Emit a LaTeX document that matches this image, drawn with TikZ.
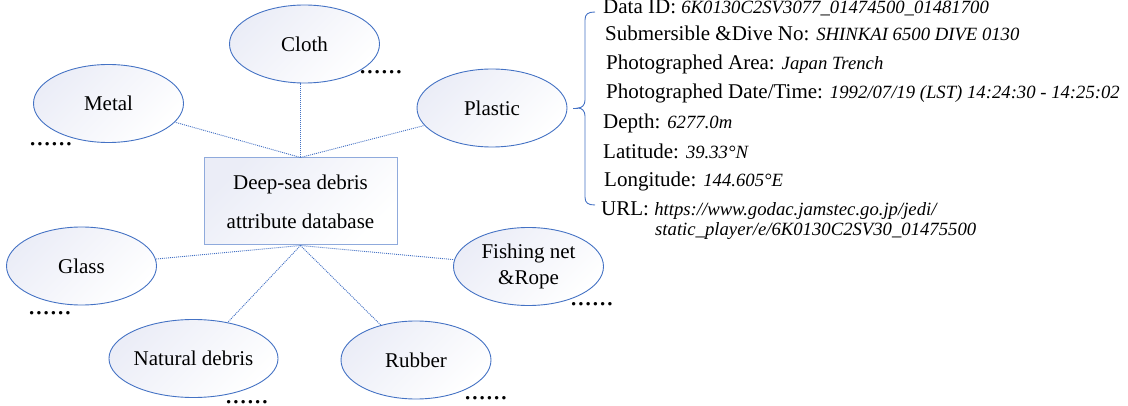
\documentclass[tikz,border=0pt]{standalone}
\usepackage{fontspec}
\setmainfont{Liberation Serif}
\usetikzlibrary{shapes.geometric}
\definecolor{eblue}{HTML}{4472C4}
\definecolor{bblue}{HTML}{8FAADC}
\definecolor{lav}{HTML}{EBEDF7}
\newcommand\infoval[1]{{\fontsize{18.7}{22}\selectfont\itshape #1}}
\tikzset{
  cat/.style={ellipse, draw=eblue, line width=0.9pt, minimum width=150pt, minimum height=78pt,
    inner sep=0pt, top color=lav, bottom color=white, shading angle=45,
    font=\fontsize{21}{26}\selectfont, align=center},
  dbbox/.style={rectangle, draw=bblue, line width=1pt, minimum width=193pt, minimum height=87pt,
    inner sep=0pt, top color=lav, bottom color=white, shading angle=45,
    font=\fontsize{21}{39}\selectfont, align=center},
  conn/.style={draw=eblue, line width=0.9pt, dash pattern=on 1pt off 1pt},
  brc/.style={draw=eblue, line width=0.9pt},
  more/.style={font=\fontsize{29}{30}\selectfont, inner sep=0pt, anchor=base west},
  info/.style={anchor=base west, inner sep=0pt, font=\fontsize{21}{25}\selectfont}
}
\begin{document}
\begin{tikzpicture}[x=1pt,y=-1pt]
\useasboundingbox (0,0) rectangle (1128,406);
% central box
\node[dbbox] (db) at (300.5,201.5) {Deep-sea debris\\attribute database};
% categories
\node[cat] (cloth) at (304.5,44) {Cloth};
\node[cat] (metal) at (108.5,103.5) {Metal};
\node[cat] (plastic) at (492,108) {Plastic};
\node[cat] (glass) at (81.5,266) {Glass};
\node[cat] (fish) at (528.5,266.5) {Fishing net\\\&Rope};
\node[cat] (natural) at (193.5,358.5) {Natural debris};
\node[cat] (rubber) at (416,360) {Rubber};
% connectors
\draw[conn] (db.north) -- (db.north |- cloth.south);
\draw[conn] (db.north) -- (metal);
\draw[conn] (db.north) -- (plastic);
\draw[conn] (db.south) -- (glass);
\draw[conn] (db.south) -- (fish);
\draw[conn] (db.south) -- (natural);
\draw[conn] (db.south) -- (rubber);
% more dots
\node[more] (m1) at (359,73.5) {......};
\node[more] (m2) at (29,145.5) {......};
\node[more] (m3) at (28,314.5) {......};
\node[more] (m4) at (570,305.5) {......};
\node[more] (m5) at (225,403) {......};
\node[more] (m6) at (464,399.5) {......};
% brace
\coordinate (btip) at (578,108);
\draw[brc] ([xshift=6pt]plastic.east) -- (btip);
\draw[brc] (595,12) .. controls (588,12) and (585,14) .. (585,20) -- (585,100)
  .. controls (585,105) and (582,108) .. (btip)
  .. controls (582,108) and (585,111) .. (585,116) -- (585,197)
  .. controls (585,203) and (588,205) .. (595,205);
% info text
\node[info] (i1) at (603,14) {Data ID: \infoval{6K0130C2SV3077\_01474500\_01481700}};
\node[info] (i2) at (605,41) {Submersible \&Dive No: \infoval{SHINKAI 6500 DIVE 0130}};
\node[info] (i3) at (606,70) {Photographed Area: \infoval{Japan Trench}};
\node[info] (i4) at (606,99) {Photographed Date/Time: \infoval{1992/07/19 (LST) 14:24:30 - 14:25:02}};
\node[info] (i5) at (603,129) {Depth: \infoval{6277.0m}};
\node[info] (i6) at (603,159) {Latitude: \infoval{39.33°N}};
\node[info] (i7) at (604,187) {Longitude: \infoval{144.605°E}};
\node[info] (i8) at (601,216) {URL: \infoval{https://www.godac.jamstec.go.jp/jedi/}};
\node[info] (i9) at (655,236) {\infoval{static\_player/e/6K0130C2SV30\_01475500}};
\end{tikzpicture}
\end{document}
